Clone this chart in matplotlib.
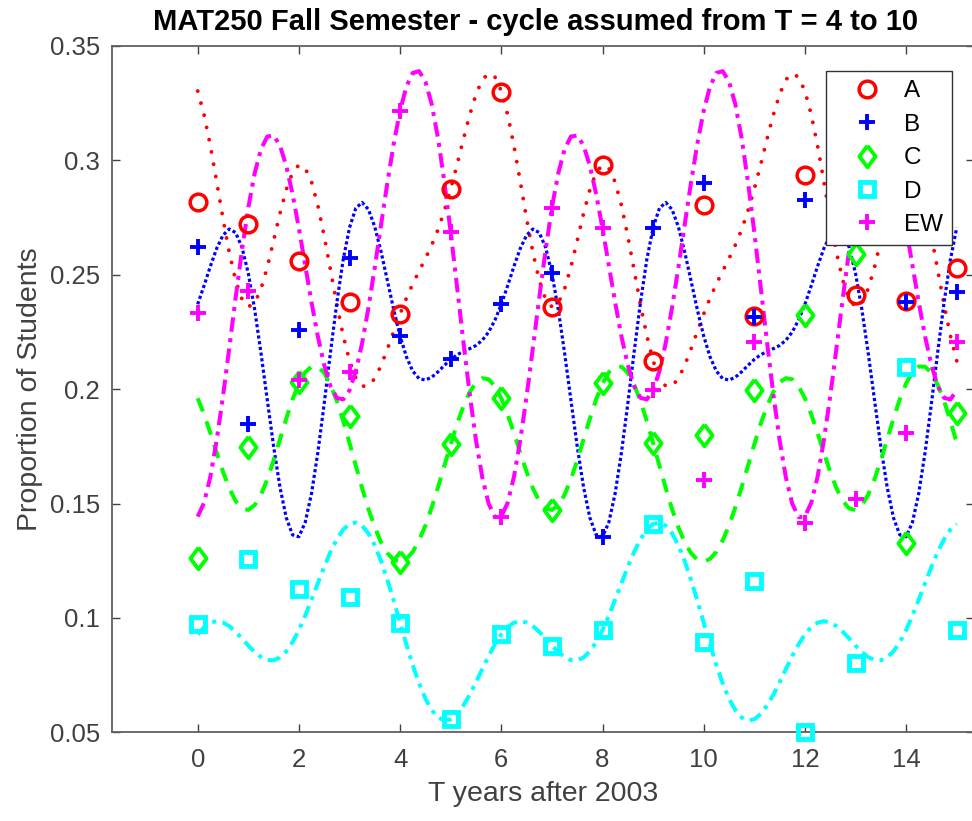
import numpy as np
import matplotlib
matplotlib.use('Agg')
import matplotlib.pyplot as plt

plt.rcParams['font.family'] = ['Liberation Sans', 'DejaVu Sans']

# observed proportions, T = 0..15
years = list(range(16))
grade_a = [0.2820, 0.2720, 0.2560, 0.2380, 0.2330, 0.2875, 0.3300, 0.2360,
           0.2980, 0.2124, 0.2805, 0.2320, 0.2936, 0.2412, 0.2387, 0.2531]
grade_b = [0.2623, 0.1846, 0.2259, 0.2572, 0.2232, 0.2130, 0.2371, 0.2506,
           0.1355, 0.2706, 0.2900, 0.2317, 0.2827, 0.2850, 0.2382, 0.2423]
grade_c = [0.1263, 0.1748, 0.2030, 0.1883, 0.1246, 0.1759, 0.1960, 0.1472,
           0.2025, 0.1765, 0.1800, 0.1996, 0.2324, 0.2589, 0.1326, 0.1894]
grade_d = [0.0972, 0.1258, 0.1125, 0.1090, 0.0979, 0.0557, 0.0928, 0.0879,
           0.0947, 0.1411, 0.0896, 0.1161, 0.0503, 0.0802, 0.2095, 0.0947]
grade_ew = [0.2332, 0.2430, 0.2040, 0.2076, 0.3217, 0.2686, 0.1443, 0.2793,
            0.2703, 0.1995, 0.1603, 0.2207, 0.1414, 0.1518, 0.1810, 0.2207]

# cyclic model curves, sampled every 0.125 years from T = 0 to 15
t_fine = np.linspace(0, 15, 121)
curve_a = [0.3303, 0.3200, 0.3064, 0.2907, 0.2745, 0.2596, 0.2475, 0.2393,
           0.2360, 0.2376, 0.2438, 0.2533, 0.2649, 0.2768, 0.2872, 0.2947,
           0.2980, 0.2966, 0.2905, 0.2802, 0.2669, 0.2520, 0.2370, 0.2234,
           0.2124, 0.2049, 0.2013, 0.2014, 0.2047, 0.2104, 0.2176, 0.2253,
           0.2329, 0.2398, 0.2460, 0.2516, 0.2571, 0.2630, 0.2698, 0.2780,
           0.2875, 0.2981, 0.3092, 0.3198, 0.3289, 0.3353, 0.3380, 0.3364,
           0.3303, 0.3200, 0.3064, 0.2907, 0.2745, 0.2596, 0.2475, 0.2393,
           0.2360, 0.2376, 0.2438, 0.2533, 0.2649, 0.2768, 0.2872, 0.2947,
           0.2980, 0.2966, 0.2905, 0.2802, 0.2669, 0.2520, 0.2370, 0.2234,
           0.2124, 0.2049, 0.2013, 0.2014, 0.2047, 0.2104, 0.2176, 0.2253,
           0.2329, 0.2398, 0.2460, 0.2516, 0.2571, 0.2630, 0.2698, 0.2780,
           0.2875, 0.2981, 0.3092, 0.3198, 0.3289, 0.3353, 0.3380, 0.3364,
           0.3303, 0.3200, 0.3064, 0.2907, 0.2745, 0.2596, 0.2475, 0.2393,
           0.2360, 0.2376, 0.2438, 0.2533, 0.2649, 0.2768, 0.2872, 0.2947,
           0.2980, 0.2966, 0.2905, 0.2802, 0.2669, 0.2520, 0.2370, 0.2234,
           0.2124]
curve_b = [0.2371, 0.2452, 0.2537, 0.2615, 0.2673, 0.2700, 0.2684, 0.2620,
           0.2506, 0.2349, 0.2159, 0.1953, 0.1750, 0.1572, 0.1438, 0.1363,
           0.1355, 0.1418, 0.1545, 0.1724, 0.1937, 0.2163, 0.2379, 0.2566,
           0.2706, 0.2791, 0.2816, 0.2785, 0.2709, 0.2599, 0.2473, 0.2346,
           0.2232, 0.2141, 0.2079, 0.2046, 0.2040, 0.2052, 0.2076, 0.2104,
           0.2130, 0.2150, 0.2165, 0.2177, 0.2191, 0.2214, 0.2250, 0.2302,
           0.2371, 0.2452, 0.2537, 0.2615, 0.2673, 0.2700, 0.2684, 0.2620,
           0.2506, 0.2349, 0.2159, 0.1953, 0.1750, 0.1572, 0.1438, 0.1363,
           0.1355, 0.1418, 0.1545, 0.1724, 0.1937, 0.2163, 0.2379, 0.2566,
           0.2706, 0.2791, 0.2816, 0.2785, 0.2709, 0.2599, 0.2473, 0.2346,
           0.2232, 0.2141, 0.2079, 0.2046, 0.2040, 0.2052, 0.2076, 0.2104,
           0.2130, 0.2150, 0.2165, 0.2177, 0.2191, 0.2214, 0.2250, 0.2302,
           0.2371, 0.2452, 0.2537, 0.2615, 0.2673, 0.2700, 0.2684, 0.2620,
           0.2506, 0.2349, 0.2159, 0.1953, 0.1750, 0.1572, 0.1438, 0.1363,
           0.1355, 0.1418, 0.1545, 0.1724, 0.1937, 0.2163, 0.2379, 0.2566,
           0.2706]
curve_c = [0.1960, 0.1890, 0.1808, 0.1722, 0.1639, 0.1566, 0.1511, 0.1478,
           0.1472, 0.1493, 0.1538, 0.1606, 0.1689, 0.1780, 0.1871, 0.1956,
           0.2025, 0.2074, 0.2099, 0.2098, 0.2071, 0.2019, 0.1948, 0.1861,
           0.1765, 0.1665, 0.1567, 0.1475, 0.1396, 0.1330, 0.1283, 0.1254,
           0.1246, 0.1258, 0.1289, 0.1339, 0.1404, 0.1483, 0.1572, 0.1665,
           0.1759, 0.1848, 0.1925, 0.1987, 0.2030, 0.2048, 0.2043, 0.2012,
           0.1960, 0.1890, 0.1808, 0.1722, 0.1639, 0.1566, 0.1511, 0.1478,
           0.1472, 0.1493, 0.1538, 0.1606, 0.1689, 0.1780, 0.1871, 0.1956,
           0.2025, 0.2074, 0.2099, 0.2098, 0.2071, 0.2019, 0.1948, 0.1861,
           0.1765, 0.1665, 0.1567, 0.1475, 0.1396, 0.1330, 0.1283, 0.1254,
           0.1246, 0.1258, 0.1289, 0.1339, 0.1404, 0.1483, 0.1572, 0.1665,
           0.1759, 0.1848, 0.1925, 0.1987, 0.2030, 0.2048, 0.2043, 0.2012,
           0.1960, 0.1890, 0.1808, 0.1722, 0.1639, 0.1566, 0.1511, 0.1478,
           0.1472, 0.1493, 0.1538, 0.1606, 0.1689, 0.1780, 0.1871, 0.1956,
           0.2025, 0.2074, 0.2099, 0.2098, 0.2071, 0.2019, 0.1948, 0.1861,
           0.1765]
curve_d = [0.0928, 0.0960, 0.0979, 0.0986, 0.0980, 0.0964, 0.0939, 0.0910,
           0.0879, 0.0851, 0.0829, 0.0816, 0.0815, 0.0827, 0.0854, 0.0894,
           0.0947, 0.1010, 0.1080, 0.1152, 0.1223, 0.1289, 0.1344, 0.1386,
           0.1411, 0.1417, 0.1403, 0.1369, 0.1317, 0.1248, 0.1165, 0.1075,
           0.0979, 0.0884, 0.0794, 0.0714, 0.0647, 0.0597, 0.0565, 0.0552,
           0.0557, 0.0580, 0.0617, 0.0664, 0.0719, 0.0777, 0.0834, 0.0885,
           0.0928, 0.0960, 0.0979, 0.0986, 0.0980, 0.0964, 0.0939, 0.0910,
           0.0879, 0.0851, 0.0829, 0.0816, 0.0815, 0.0827, 0.0854, 0.0894,
           0.0947, 0.1010, 0.1080, 0.1152, 0.1223, 0.1289, 0.1344, 0.1386,
           0.1411, 0.1417, 0.1403, 0.1369, 0.1317, 0.1248, 0.1165, 0.1075,
           0.0979, 0.0884, 0.0794, 0.0714, 0.0647, 0.0597, 0.0565, 0.0552,
           0.0557, 0.0580, 0.0617, 0.0664, 0.0719, 0.0777, 0.0834, 0.0885,
           0.0928, 0.0960, 0.0979, 0.0986, 0.0980, 0.0964, 0.0939, 0.0910,
           0.0879, 0.0851, 0.0829, 0.0816, 0.0815, 0.0827, 0.0854, 0.0894,
           0.0947, 0.1010, 0.1080, 0.1152, 0.1223, 0.1289, 0.1344, 0.1386,
           0.1411]
curve_ew = [0.1443, 0.1503, 0.1617, 0.1777, 0.1969, 0.2182, 0.2400, 0.2608,
            0.2793, 0.2943, 0.3048, 0.3104, 0.3109, 0.3065, 0.2976, 0.2852,
            0.2703, 0.2541, 0.2379, 0.2230, 0.2105, 0.2013, 0.1962, 0.1955,
            0.1995, 0.2079, 0.2202, 0.2357, 0.2533, 0.2720, 0.2904, 0.3074,
            0.3217, 0.3323, 0.3382, 0.3390, 0.3344, 0.3245, 0.3096, 0.2906,
            0.2686, 0.2448, 0.2208, 0.1979, 0.1776, 0.1613, 0.1499, 0.1441,
            0.1443, 0.1503, 0.1617, 0.1777, 0.1969, 0.2182, 0.2400, 0.2608,
            0.2793, 0.2943, 0.3048, 0.3104, 0.3109, 0.3065, 0.2976, 0.2852,
            0.2703, 0.2541, 0.2379, 0.2230, 0.2105, 0.2013, 0.1962, 0.1955,
            0.1995, 0.2079, 0.2202, 0.2357, 0.2533, 0.2720, 0.2904, 0.3074,
            0.3217, 0.3323, 0.3382, 0.3390, 0.3344, 0.3245, 0.3096, 0.2906,
            0.2686, 0.2448, 0.2208, 0.1979, 0.1776, 0.1613, 0.1499, 0.1441,
            0.1443, 0.1503, 0.1617, 0.1777, 0.1969, 0.2182, 0.2400, 0.2608,
            0.2793, 0.2943, 0.3048, 0.3104, 0.3109, 0.3065, 0.2976, 0.2852,
            0.2703, 0.2541, 0.2379, 0.2230, 0.2105, 0.2013, 0.1962, 0.1955,
            0.1995]

xticks = [0, 2, 4, 6, 8, 10, 12, 14]
yticks = [0.05, 0.1, 0.15, 0.2, 0.25, 0.3, 0.35]
ytick_labels = ['0.05', '0.1', '0.15', '0.2', '0.25', '0.3', '0.35']

fig = plt.figure(figsize=(9.72, 8.21), dpi=100)
ax = fig.add_axes([0.1149, 0.108, 0.8876, 0.836])

tall_diamond = [(0, 1), (0.75, 0), (0, -1), (-0.75, 0), (0, 1)]

ax.plot(years, grade_a, ls='none', marker='o', ms=12, mfc='none', mec='red',
        mew=2.5, clip_on=False, zorder=3, label='A')
ax.plot(years, grade_b, ls='none', marker='+', ms=11.5, mec='blue',
        mew=2.8, clip_on=False, zorder=3, label='B')
ax.plot(years, grade_c, ls='none', marker=tall_diamond, ms=15.5, mfc='none',
        mec='#00ff00', mew=2.8, clip_on=False, zorder=3, label='C')
ax.plot(years, grade_d, ls='none', marker='s', ms=9.4, mfc='none',
        mec='cyan', mew=3.5, clip_on=False, zorder=3, label='D')
ax.plot(years, grade_ew, ls='none', marker='+', ms=11.5, mec='magenta',
        mew=2.8, clip_on=False, zorder=3, label='EW')

ax.plot(t_fine, curve_a, color='red', lw=2.8, ls=(0, (0.01, 3.2)),
        dash_capstyle='round', zorder=2)
ax.plot(t_fine, curve_b, color='blue', lw=2.3, ls=(0, (1, 0.8)), zorder=2)
ax.plot(t_fine, curve_c, color='#00ff00', lw=2.9, ls=(0, (3.5, 2.6)), zorder=2)
ax.plot(t_fine, curve_d, color='cyan', lw=2.9, ls=(0, (3.2, 1.6, 1, 1.6)), zorder=2)
ax.plot(t_fine, curve_ew, color='magenta', lw=2.9, ls=(0, (3.6, 1.6, 1, 1.6)), zorder=2)

ax.set_xlim(-1.7, 15.35)
ax.set_ylim(0.05, 0.35)
ax.set_xticks(xticks)
ax.set_yticks(yticks)
ax.set_yticklabels(ytick_labels)
ax.tick_params(direction='in', length=6, width=1.0, top=True, right=True,
               labelsize=18.5, colors='#404040', pad=8.5)
ax.tick_params(axis='x', pad=11.5)
for sp in ax.spines.values():
    sp.set_color('#606060')
    sp.set_linewidth(1.3)

ax.set_xlabel('T years after 2003', fontsize=20.5, color='#404040', labelpad=6)
ax.set_ylabel('Proportion of Students', fontsize=20.5, color='#404040', labelpad=5)
fig.text(0.551, 0.973, 'MAT250 Fall Semester - cycle assumed from T = 4 to 10',
         ha='center', va='center', fontsize=21, fontweight='bold', color='black')

leg = ax.legend(loc='upper right', bbox_to_anchor=(0.974, 0.9636), borderaxespad=0,
                fontsize=17.5, frameon=True, fancybox=False, framealpha=1,
                edgecolor='#333333', borderpad=0.38, handlelength=2.55,
                handletextpad=0.25, labelspacing=0.47, numpoints=1)
leg.get_frame().set_linewidth(1.0)
leg.set_zorder(5)

fig.savefig('out.png', dpi=100)
